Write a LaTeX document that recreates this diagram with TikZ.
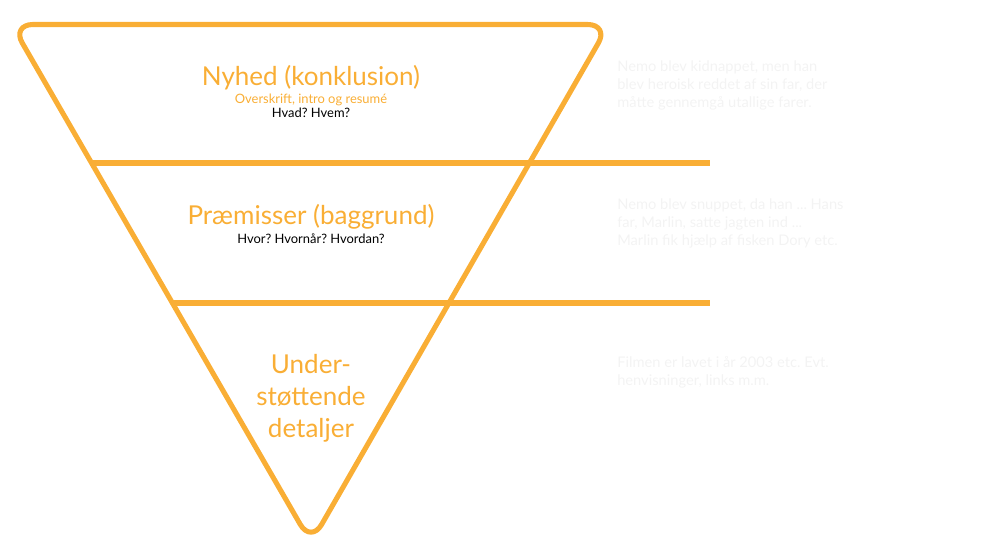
\documentclass[tikz,border=0pt]{standalone}
\usepackage{fontspec}
\setmainfont{Lato}
\frenchspacing
\definecolor{funnel}{HTML}{F9AE35}
\definecolor{ghost}{HTML}{F3F3F3}
\begin{document}
\begin{tikzpicture}[x=0.75pt,y=-0.75pt,
  rim/.style={draw=funnel,line width=3.8pt,line join=round,line cap=round},
  heading/.style={text=funnel,font=\fontsize{19.5}{24}\selectfont,align=center,inner sep=0pt},
  subhead/.style={text=funnel,font=\fontsize{9.7}{12}\selectfont,inner sep=0pt},
  question/.style={text=black,font=\fontsize{9.7}{12}\selectfont,inner sep=0pt},
  aside/.style={text=ghost,font=\fontsize{11}{13.6}\selectfont,align=left,anchor=north west,inner sep=0pt}]
\useasboundingbox (0,0) rectangle (1000,550);
% funnel outline
\coordinate (tl) at (11.6,24.5);
\coordinate (tr) at (609,24.5);
\coordinate (tip) at (311,543);
\draw[rim,rounded corners=16pt] (tl) -- (tr) -- (tip) -- cycle;
% level dividers
\coordinate (a1) at (92,163);
\coordinate (a2) at (710,163);
\coordinate (b1) at (173,303);
\coordinate (b2) at (710,303);
\draw[rim,line cap=butt] (a1) -- (a2);
\draw[rim,line cap=butt] (b1) -- (b2);
% level labels
\node[heading] (n1) at (311,78) {Nyhed (konklusion)};
\node[subhead] (n1s) at (311,100) {Overskrift, intro og resumé};
\node[question] (n1q) at (311,113) {Hvad? Hvem?};
\node[heading] (n2) at (311,217) {Præmisser (baggrund)};
\node[question] (n2q) at (311,239) {Hvor? Hvornår? Hvordan?};
\node[heading] (n3) at (311,398) {Under-\\støttende\\detaljer};
% example notes
\node[aside] (e1) at (617,60) {Nemo blev kidnappet, men han\\blev heroisk reddet af sin far, der\\måtte gennemgå utallige farer.};
\node[aside] (e2) at (617,198) {Nemo blev snuppet, da han ... Hans\\far, Marlin, satte jagten ind ...\\Marlin fik hjælp af fisken Dory etc.};
\node[aside] (e3) at (617,356) {Filmen er lavet i år 2003 etc. Evt.\\henvisninger, links m.m.};
\end{tikzpicture}
\end{document}
